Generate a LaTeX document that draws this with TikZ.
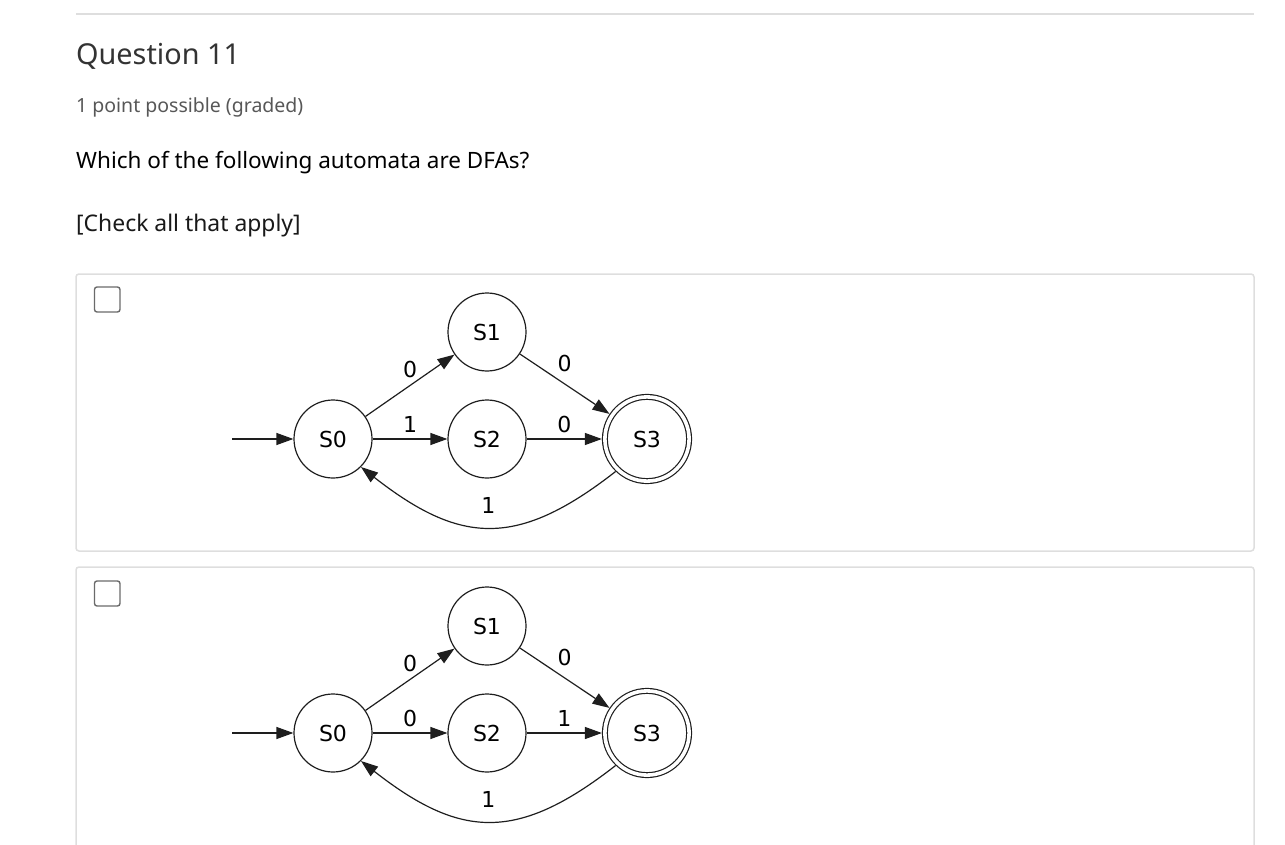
\documentclass[tikz,border=0pt]{standalone}
\usepackage{fontspec}
\setmainfont{Noto Sans}
\newfontfamily\dotfont{DejaVu Sans}
\usetikzlibrary{automata, positioning, arrows.meta}

\definecolor{ink}{HTML}{1E1E1E}
\definecolor{rule}{HTML}{DEDEDE}
\definecolor{boxgray}{HTML}{6A6A6A}
\definecolor{headgray}{HTML}{333333}
\definecolor{subgray}{HTML}{575757}

\begin{document}
\begin{tikzpicture}[x=1pt, y=1pt, >={Triangle[length=17pt, width=12pt]},
    every state/.style={draw=ink, line width=1.2pt, minimum size=78pt,
      inner sep=0pt, font=\dotfont\fontsize{22}{26}\selectfont},
    final/.style={double=white, double distance=3.6pt, minimum size=84.2pt,
      outer sep=3pt},
    edge/.style={draw=ink, line width=1.2pt, ->},
    lbl/.style={font=\dotfont\fontsize{22}{26}\selectfont, inner sep=1pt},
    panel/.style={draw=rule, line width=1.5pt, rounded corners=3pt},
    tick/.style={draw=boxgray, line width=1.4pt, rounded corners=2.5pt}]

  \useasboundingbox (0,0) rectangle (1285,-845);

  % header
  \draw[rule, line width=1.2pt] (76,-14) -- (1254,-14);
  \node[anchor=base west, inner sep=0pt, text=headgray,
    font=\fontsize{28.8}{34}\selectfont] (title) at (76,-65) {Question 11};
  \node[anchor=base west, inner sep=0pt, text=subgray,
    font=\fontsize{19.5}{23}\selectfont] (points) at (76,-113) {1 point possible (graded)};
  \node[anchor=base west, inner sep=0pt, text=black,
    font=\fontsize{22.5}{27}\selectfont] (ask) at (76,-169) {Which of the following automata are DFAs?};
  \node[anchor=base west, inner sep=0pt, text=black!90,
    font=\fontsize{22.9}{27}\selectfont] (hint) at (76,-232) {[Check all that apply]};

  % panels
  \draw[panel] (76,-274) rectangle (1254,-551);
  \draw[panel] (76,-567) rectangle (1254,-860);
  \draw[tick] (94.5,-287) rectangle (120,-312);
  \draw[tick] (94.5,-581) rectangle (120,-606);

  % first automaton
  \node[state] (a0) at (333,-439) {S0};
  \node[state] (a1) at (487,-332) {S1};
  \node[state] (a2) at (487,-439) {S2};
  \node[state, final] (a3) at (647,-439) {S3};
  \coordinate (a) at (232,-439);
  \draw[edge] (a) -- (a0);
  \draw[edge] (a0) -- node[lbl, above=6pt] {0} (a1);
  \draw[edge] (a0) -- node[lbl, above=5pt] {1} (a2);
  \draw[edge] (a1) -- node[lbl, above=11pt] {0} (a3);
  \draw[edge] (a2) -- node[lbl, above=5pt] {0} (a3);
  \draw[edge] (a3.-134) to[out=-142, in=-38, looseness=1.26]
    node[lbl, above=12pt] {1} (a0.-45);

  % second automaton
  \node[state] (b0) at (333,-733) {S0};
  \node[state] (b1) at (487,-626) {S1};
  \node[state] (b2) at (487,-733) {S2};
  \node[state, final] (b3) at (647,-733) {S3};
  \coordinate (b) at (232,-733);
  \draw[edge] (b) -- (b0);
  \draw[edge] (b0) -- node[lbl, above=6pt] {0} (b1);
  \draw[edge] (b0) -- node[lbl, above=5pt] {0} (b2);
  \draw[edge] (b1) -- node[lbl, above=11pt] {0} (b3);
  \draw[edge] (b2) -- node[lbl, above=5pt] {1} (b3);
  \draw[edge] (b3.-134) to[out=-142, in=-38, looseness=1.26]
    node[lbl, above=12pt] {1} (b0.-45);
\end{tikzpicture}
\end{document}
